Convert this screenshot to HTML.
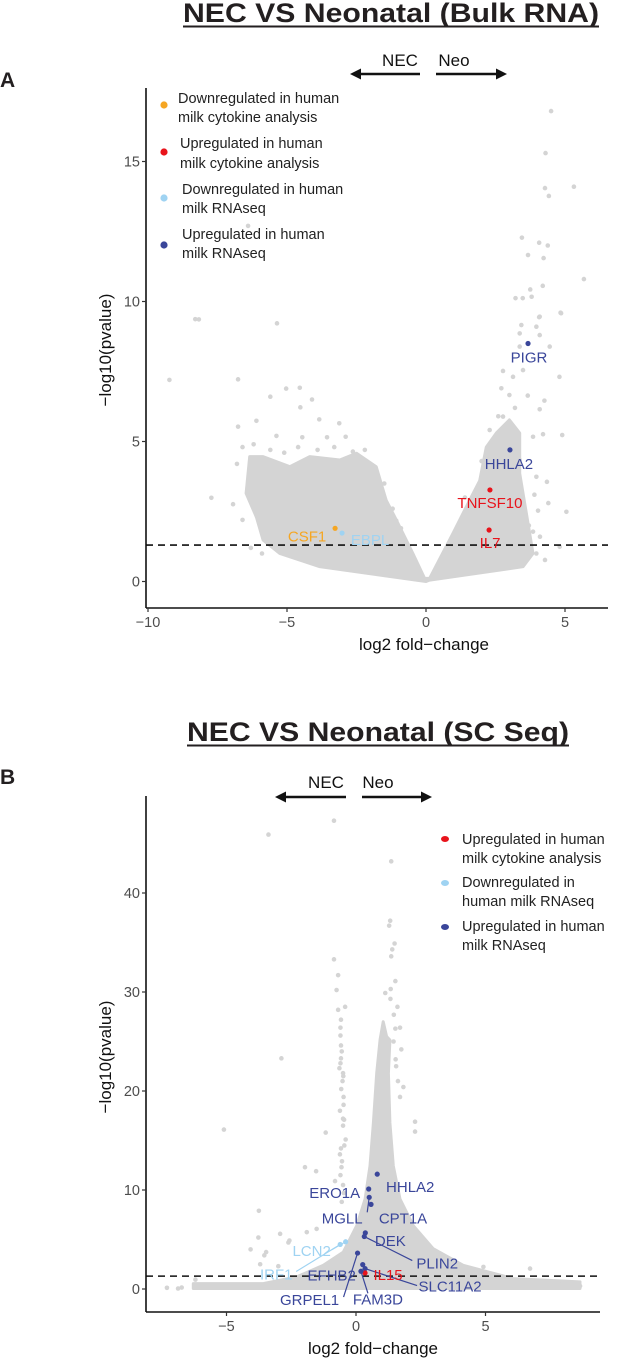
<!DOCTYPE html>
<html><head><meta charset="utf-8">
<style>
html,body{margin:0;padding:0;background:#fff;}
svg{display:block;font-family:"Liberation Sans",Arial,sans-serif;}
</style></head>
<body>
<svg id="fig" width="629" height="1368" viewBox="0 0 629 1368" xmlns="http://www.w3.org/2000/svg">
  <text x="183" y="22" font-size="27" font-weight="bold" fill="#231f20" textLength="416" lengthAdjust="spacingAndGlyphs">NEC VS Neonatal (Bulk RNA)</text>
  <line x1="183" y1="26.5" x2="599" y2="26.5" stroke="#231f20" stroke-width="2"/>
  <text x="0" y="87" font-size="21" font-weight="bold" fill="#231f20">A</text>
  <text x="400" y="66" font-size="17" text-anchor="middle" fill="#111">NEC</text>
  <text x="454" y="66" font-size="17" text-anchor="middle" fill="#111">Neo</text>
  <g stroke="#111" stroke-width="2.4" fill="#111">
    <line x1="358" y1="74" x2="420" y2="74"/><polygon points="350,74 361,68.5 361,79.5" stroke="none"/>
  </g>
  <g stroke="#111" stroke-width="2.4" fill="#111">
    <line x1="436" y1="74" x2="499" y2="74"/><polygon points="507,74 496,68.5 496,79.5" stroke="none"/>
  </g>
  <g font-size="14.5" fill="#222">
    <g><circle cx="164" cy="105" r="3.6" fill="#f5a623"/><text x="178" y="103">Downregulated in human</text><text x="178" y="122">milk cytokine analysis</text></g>
    <g><circle cx="164" cy="152" r="3.6" fill="#e8131b"/><text x="180" y="148">Upregulated in human</text><text x="180" y="168">milk cytokine analysis</text></g>
    <g><circle cx="164" cy="198" r="3.6" fill="#9fd3f2"/><text x="182" y="194">Downregulated in human</text><text x="182" y="213">milk RNAseq</text></g>
    <g><circle cx="164" cy="245" r="3.6" fill="#3a469a"/><text x="182" y="239">Upregulated in human</text><text x="182" y="258">milk RNAseq</text></g>
  </g>
  <text transform="translate(111,350) rotate(-90)" font-size="17" text-anchor="middle" fill="#111">−log10(pvalue)</text>
  <text x="424" y="650" font-size="17" text-anchor="middle" fill="#111">log2 fold−change</text>
  <g id="plotA"></g>

  <text x="187" y="741" font-size="27" font-weight="bold" fill="#231f20" textLength="382" lengthAdjust="spacingAndGlyphs">NEC VS Neonatal (SC Seq)</text>
  <line x1="187" y1="745.5" x2="569" y2="745.5" stroke="#231f20" stroke-width="2"/>
  <text x="0" y="784" font-size="21" font-weight="bold" fill="#231f20">B</text>
  <text x="326" y="788" font-size="17" text-anchor="middle" fill="#111">NEC</text>
  <text x="378" y="788" font-size="17" text-anchor="middle" fill="#111">Neo</text>
  <g stroke="#111" stroke-width="2.4" fill="#111">
    <line x1="282" y1="797" x2="346" y2="797"/><polygon points="275,797 286,791.5 286,802.5" stroke="none"/>
  </g>
  <g stroke="#111" stroke-width="2.4" fill="#111">
    <line x1="362" y1="797" x2="425" y2="797"/><polygon points="432,797 421,791.5 421,802.5" stroke="none"/>
  </g>
  <g font-size="14.5" fill="#222">
    <g><ellipse cx="445" cy="839" rx="4" ry="3" fill="#e8131b"/><text x="462" y="844">Upregulated in human</text><text x="462" y="863">milk cytokine analysis</text></g>
    <g><ellipse cx="445" cy="883" rx="4" ry="3" fill="#9fd3f2"/><text x="462" y="887">Downregulated in</text><text x="462" y="906">human milk RNAseq</text></g>
    <g><ellipse cx="445" cy="927" rx="4" ry="3" fill="#3a469a"/><text x="462" y="931">Upregulated in human</text><text x="462" y="950">milk RNAseq</text></g>
  </g>
  <text transform="translate(111,1057) rotate(-90)" font-size="17" text-anchor="middle" fill="#111">−log10(pvalue)</text>
  <text x="373" y="1354" font-size="17" text-anchor="middle" fill="#111">log2 fold−change</text>
  <g id="plotB"></g>
</svg>

<script>
// ---------- Panel A data ----------
const cloudA_x = [0,-3.82,-5.26,-5.86,-6.1,-6.47,-6.34,-5.86,-4.9,-4.18,-3.1,-2.5,-1.79,-1.43,-1.07,-0.47,-0.05,0.13,0.97,1.57,1.93,2.17,2.53,3.0,3.37,3.37,3.61,3.85,3.49,0.13];
const cloudA_y = [0,0.53,1.0,1.48,2.3,3.15,4.46,4.46,4.1,4.46,4.34,4.58,4.1,2.9,2.2,1.0,0.11,0.11,1.72,2.9,3.6,4.8,5.3,5.77,5.3,3.86,2.43,1.0,0.53,0.05];
const bgA_x = [-8.17,-5.36,-9.23,-6.76,-5.03,-4.54,-5.6,-4.52,-4.1,-3.84,-3.12,-6.1,-6.76,-7.72,-6.94,-6.6,-5.38,-4.45,-3.56,-2.89,-2.63,-1.07,-6.4,-8.3,
  4.09,4.86,3.43,3.97,4.09,3.37,4.45,3.37,3.49,2.77,3.13,4.8,2.71,3.0,3.66,4.26,4.09,2.77,4.21,4.9,3.85,4.35,3.97,4.03,5.05,3.85,4.81,4.28,3.97,2.29,3.37,
  4.5,4.3,4.28,4.42,5.32,3.45,4.07,4.38,3.67,4.23,5.68,4.2,3.75,3.22,3.48,3.8,4.84,4.07,
  -6.6,-6.2,-5.6,-5.1,-4.6,-3.9,-3.3,-2.2,-1.5,-6.8,-6.3,-5.9,-1.2,-0.9,3.7,3.9,4.1,4.4,3.2,2.6,2.0,1.4];
const bgA_y = [9.36,9.22,7.2,7.22,6.89,6.92,6.6,6.22,6.5,5.79,5.65,5.74,5.53,2.99,2.76,2.2,5.2,5.15,5.15,5.17,4.64,2.17,12.7,9.37,
  9.46,9.58,9.16,9.1,8.8,8.86,8.39,8.39,7.55,7.52,7.31,7.31,6.9,6.66,6.64,6.46,6.15,5.89,5.26,5.23,5.17,3.56,3.74,2.53,2.49,1.78,1.24,0.77,1.0,5.41,4.34,
  16.8,15.3,14.05,13.77,14.1,12.28,12.1,12.0,11.66,11.55,10.8,10.56,10.43,10.12,10.12,10.17,9.6,9.44,
  4.8,4.9,4.7,4.6,4.8,4.7,4.8,4.7,3.5,4.2,1.2,1.0,2.6,1.9,2.0,3.1,1.6,2.8,6.2,5.9,4.3,3.0];
const genesA = ["PIGR","HHLA2","TNFSF10","IL7","CSF1","EBPL"];
const genesA_x = [3.67,3.02,2.3,2.27,-3.27,-3.02];
const genesA_y = [8.5,4.7,3.27,1.84,1.9,1.73];
const genesA_cat = ["upR","upR","upC","upC","downC","downR"];
const ticksA_x = [-10,-5,0,5];
const ticksA_y = [0,5,10,15];
const thresholdA = 1.3;

// ---------- Panel B data ----------
const cloudB_x = [-6.28,-6.28,-3.58,-2.29,-1.26,-0.49,0.03,0.35,0.54,0.67,0.8,0.93,1.05,1.18,1.31,1.25,1.31,1.44,1.7,2.21,2.98,4.14,6.07,8.65,8.65];
const cloudB_y = [0.05,0.55,0.55,1.22,2.39,3.73,6.4,9.09,12.43,16.8,21.8,25.2,27,25.5,25.15,21.8,16.8,12.43,9.09,6.4,4.07,2.39,1.05,0.72,0.05];
const bgB_x = [-0.85,-3.38,1.36,1.32,1.28,1.49,1.4,1.36,-0.85,-0.69,-0.75,1.52,1.34,1.33,1.13,-0.42,-0.69,-0.58,-0.6,-0.6,1.46,1.52,1.7,-2.88,-0.58,-0.58,-0.64,-0.5,1.53,1.83,1.7,-5.1,2.28,2.28,-0.48,-0.5,-1.17,
  -0.49,-0.46,-0.4,-0.62,-0.56,-1.97,-1.54,-0.81,-3.75,-2.93,-3.77,-3.47,-4.07,-2.57,-1.9,-1.52,2.79,2.28,4.92,3.5,-3.54,-3.7,-3.0,-2.61,
  -7.3,-6.87,-6.2,-6.2,-6.73,7.04,7.5,8.65,7.8,6.72,
  -0.55,-0.6,-0.52,-0.57,-0.48,-0.62,-0.5,-0.45,-0.58,-0.54,-0.6,-0.5,-0.47,-0.55,1.6,1.45,1.75,1.55,1.62];
const bgB_y = [47.3,45.9,43.2,37.2,36.7,34.9,34.3,33.6,33.3,31.7,30.2,31.1,30.3,29.3,29.9,28.5,28.2,27.2,26.4,25.6,27.7,26.3,26.4,23.3,24.6,23.3,22.3,21.8,23.2,20.4,19.4,16.1,16.9,15.9,19.4,17.2,15.8,
  21.5,17.1,15.1,13.6,12.3,12.3,11.9,10.9,7.9,5.57,5.2,3.73,4.0,4.9,5.74,6.07,3.73,4.4,2.23,3.06,3.4,2.5,2.3,4.7,
  0.12,0.05,0.4,0.95,0.15,0.2,0.4,0.3,0.7,2.06,
  24.0,22.8,21.0,20.2,18.6,18.0,16.5,14.5,14.2,12.9,11.5,10.5,9.7,8.8,28.5,25.0,24.2,22.5,21.0];
const genesB = ["HHLA2","ERO1A","MGLL","CPT1A","DEK","PLIN2","LCN2","IRF1","GRPEL1","EFHB2","SLC11A2","IL15","FAM3D"];
const genesB_x = [0.82,0.49,0.51,0.58,0.36,0.32,-0.4,-0.61,0.06,0.26,0.35,0.35,0.19];
const genesB_y = [11.6,10.1,9.26,8.55,5.67,5.3,4.77,4.5,3.63,2.46,2.06,1.62,1.79];
const genesB_cat = ["upR","upR","upR","upR","upR","upR","downR","downR","upR","upR","upR","upC","upR"];
const ticksB_x = [-5,0,5];
const ticksB_y = [0,10,20,30,40];
const thresholdB = 1.3;

const COLORS = {upR:"#3a469a", downR:"#9fd3f2", upC:"#e8131b", downC:"#f5a623"};
const NS = "http://www.w3.org/2000/svg";
function mk(tag, attrs, parent){ const e=document.createElementNS(NS,tag); for(const k in attrs) e.setAttribute(k,attrs[k]); parent.appendChild(e); return e; }

function drawPanel(cfg){
  const g = document.getElementById(cfg.id);
  const sx = v => cfg.x0 + v*cfg.kx;
  const sy = v => cfg.y0 - v*cfg.ky;
  let pts = cfg.cx.map((v,i)=> sx(v).toFixed(1)+","+sy(cfg.cy[i]).toFixed(1)).join(" ");
  const poly = mk("polygon",{points:pts, fill:"#d4d4d4", stroke:"#d4d4d4", "stroke-width":"3", "stroke-linejoin":"round"}, g);
  
  
  cfg.bx.forEach((v,i)=>{
    const c = mk("circle",{cx:sx(v), cy:sy(cfg.by[i]), r:2.3, fill:"#d4d4d4"}, g);
    
    
  });
  const th = mk("line",{x1:cfg.axL, x2:cfg.axR, y1:sy(cfg.th), y2:sy(cfg.th), stroke:"#111", "stroke-width":"1.6", "stroke-dasharray":"7,5"}, g);
  
  
  const ya = mk("line",{x1:cfg.axL, x2:cfg.axL, y1:cfg.axT, y2:cfg.axB, stroke:"#111", "stroke-width":"1.6"}, g);
  
  
  const xa = mk("line",{x1:cfg.axL, x2:cfg.axR, y1:cfg.axB, y2:cfg.axB, stroke:"#111", "stroke-width":"1.6"}, g);
  
  
  cfg.tx.forEach(t=>{
    const tk = mk("line",{x1:sx(t), x2:sx(t), y1:cfg.axB, y2:cfg.axB+4, stroke:"#333", "stroke-width":"1.2"}, g);
    
    
    const tl = mk("text",{x:sx(t), y:cfg.axB+19, "font-size":"14.5", fill:"#4d4d4d", "text-anchor":"middle"}, g);
    tl.textContent = t<0 ? "−"+Math.abs(t) : String(t);
    
    
  });
  cfg.ty.forEach(t=>{
    const tk = mk("line",{x1:cfg.axL-4, x2:cfg.axL, y1:sy(t), y2:sy(t), stroke:"#333", "stroke-width":"1.2"}, g);
    
    
    const tl = mk("text",{x:cfg.axL-6, y:sy(t)+5, "font-size":"14.5", fill:"#4d4d4d", "text-anchor":"end"}, g);
    tl.textContent = String(t);
    
    
  });
  cfg.gn.forEach((name,i)=>{
    const col = COLORS[cfg.gc[i]];
    const px = sx(cfg.gx[i]), py = sy(cfg.gy[i]);
    const lp = cfg.labels[i];
    const lx = px + lp[0], ly = py + lp[1];
    if (lp[2]) {
      const ln = mk("line",{x1:px, y1:py, x2:px+lp[2][0], y2:py+lp[2][1], stroke:col, "stroke-width":"1.2"}, g);
      
      
    }
    const c = mk("circle",{cx:px, cy:py, r:2.6, fill:col}, g);
    
    
    const t = mk("text",{x:lx, y:ly+5, "font-size":"15", fill:col, "text-anchor":"middle"}, g);
    t.textContent = name;
    
    
  });
}

drawPanel({id:"plotA", x0:426, kx:27.8, y0:581.5, ky:28, axL:146, axR:608, axT:88, axB:608,
  cx:cloudA_x, cy:cloudA_y, bx:bgA_x, by:bgA_y, th:thresholdA, tx:ticksA_x, ty:ticksA_y,
  gn:genesA, gx:genesA_x, gy:genesA_y, gc:genesA_cat,
  labels:[[1,14],[-1,14],[0,13],[1,13],[-28,8],[28,7]]});

drawPanel({id:"plotB", x0:356, kx:25.9, y0:1289, ky:9.9, axL:146, axR:600, axT:796, axB:1312,
  cx:cloudB_x, cy:cloudB_y, bx:bgB_x, by:bgB_y, th:thresholdB, tx:ticksB_x, ty:ticksB_y,
  gn:genesB, gx:genesB_x, gy:genesB_y, gc:genesB_cat,
  labels:[[33,13],[-34,4],[-27,21,[-2,15]],[32,14],[25,8],[73,27,[48,24]],[-34,9,[-14,8]],[-64,30,[-44,27]],[-48,47,[-14,44]],[-31,11],[85,18,[52,17]],[23,2],[17,28,[7,22]]]});
</script>
</body></html>
